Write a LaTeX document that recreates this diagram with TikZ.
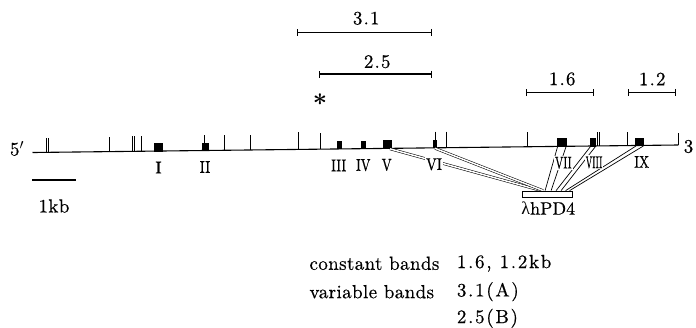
\documentclass[tikz,border=0pt]{standalone}
\usepackage{fontspec}
\usepackage{graphicx}
\usetikzlibrary{arrows.meta}
\setmainfont{lmroman10-regular}[Extension=.otf,FakeBold=0.5]
\newfontfamily\lsA{lmroman10-regular}[Extension=.otf,LetterSpace=2,FakeBold=0.5]
\newfontfamily\lsB{lmroman10-regular}[Extension=.otf,LetterSpace=9,FakeBold=0.5]
\newfontfamily\lsC{lmroman10-regular}[Extension=.otf,LetterSpace=6,FakeBold=0.5]
\newfontfamily\grk{Liberation Serif}
\def\ly#1{152.5-0.01163*(#1-33)}
\newcommand\rnum[2]{\resizebox{#1pt}{\height}{#2}}
\tikzset{
  mainline/.style={line width=1.1pt},
  tk/.style={line width=0.8pt},
  sizebar/.style={line width=1.1pt,{Bar[width=7pt]}-{Bar[width=7pt]}},
  num/.style={font=\lsC\fontsize{19}{20}\selectfont,inner sep=0pt},
  rn/.style={font=\fontsize{17}{18}\selectfont,inner sep=1pt,fill=white},
  lgd/.style={font=\lsA\fontsize{19}{20}\selectfont,inner sep=0pt,anchor=west},
  lgdn/.style={font=\lsB\fontsize{19}{20}\selectfont,inner sep=0pt,anchor=west},
  dbl/.style={draw=black,line width=0.55pt,double=white,double distance=1.5pt},
  sgl/.style={line width=0.7pt},
}
\begin{document}
\begin{tikzpicture}[x=1pt,y=-1pt]
\useasboundingbox (0,0) rectangle (696,327);
% main line
\coordinate (L) at (32.5,{\ly{32.5}});
\coordinate (R) at (678.3,{\ly{678.3}});
\draw[mainline] (L) -- (R);
% ticks
\foreach \t/\h in {46.5/138.3,48.3/138.3,109/137,132.7/136,134.7/136,141.7/136,204.3/135,224.3/135,250/135,298.3/132.3,320/133,435/131.7,446/131.7,527.3/132.3,597.3/132.3,599.3/132.3,627.3/132,678.3/133.3}
  \draw[tk] (\t,\h) -- (\t,{\ly{\t}});
% exons
\foreach \a/\b in {154/163.3,201.7/209,336.7/341.7,360.7/365.7,383.3/392.3,432.7/437.3,557.3/567.3,590/596,635/644}
  \fill (\a,{\ly{\a}+0.5}) rectangle (\b,{\ly{\a}-8});
% exon connector start points
\coordinate (eV) at (390,{\ly{390}+0.5});
\coordinate (eVI) at (435,{\ly{435}+0.5});
\coordinate (eVIIa) at (557.5,{\ly{557.5}+0.5});
\coordinate (eVIIb) at (566,{\ly{566}+0.5});
\coordinate (eVIIIa) at (590.5,{\ly{590.5}+0.5});
\coordinate (eVIIIb) at (595.5,{\ly{595.5}+0.5});
\coordinate (eIXa) at (636,{\ly{636}+0.5});
\coordinate (eIXb) at (643.5,{\ly{643.5}+0.5});
% clone box
\node[draw,fill=white,line width=0.8pt,minimum width=49.5pt,minimum height=6pt,inner sep=0pt] (pd) at (547.25,194) {};
\coordinate (pV) at ([xshift=19pt]pd.north west);
\coordinate (pVI) at ([xshift=21pt]pd.north west);
\coordinate (pVIIa) at ([xshift=23pt]pd.north west);
\coordinate (pVIIb) at ([xshift=29pt]pd.north west);
\coordinate (pVIIIa) at ([xshift=34pt]pd.north west);
\coordinate (pVIIIb) at ([xshift=39pt]pd.north west);
\coordinate (pIXa) at ([xshift=43.5pt]pd.north west);
\coordinate (pIXb) at ([xshift=47.5pt]pd.north west);
\draw[dbl] (eV) -- (pV);
\draw[dbl] (eVI) -- (pVI);
\draw[sgl] (eVIIa) -- (pVIIa);
\draw[sgl] (eVIIb) -- (pVIIb);
\draw[sgl] (eVIIIa) -- (pVIIIa);
\draw[sgl] (eVIIIb) -- (pVIIIb);
\draw[sgl] (eIXa) -- (pIXa);
\draw[sgl] (eIXb) -- (pIXb);
\node[draw,fill=white,line width=0.8pt,minimum width=49.5pt,minimum height=6pt,inner sep=0pt] (pdtop) at (pd) {};
\node[font=\fontsize{18}{19}\selectfont,inner sep=0pt] (pdl) at (548.3,208.3) {{\grk λ}hPD4};
% exon labels
\node[rn] (nI) at (158.5,{\ly{158.5}+16.5}) {I};
\node[rn] (nII) at (205,{\ly{205}+16.5}) {\rnum{10.7}{II}};
\node[rn] (nIII) at (338.7,{\ly{338.7}+16.5}) {\rnum{15}{III}};
\node[rn] (nIV) at (363.3,{\ly{363.3}+16.5}) {\rnum{14.3}{IV}};
\node[rn] (nV) at (386.7,{\ly{386.7}+16.5}) {\rnum{10}{V}};
\node[rn] (nVI) at (434,{\ly{434}+16.5}) {\rnum{16}{VI}};
\node[rn] (nVII) at (563.3,{\ly{563.3}+16.5}) {\rnum{16.7}{VII}};
\node[rn] (nVIII) at (594,{\ly{594}+16.5}) {\rnum{16.7}{VIII}};
\node[rn] (nIX) at (641.7,{\ly{641.7}+16.5}) {\rnum{15}{IX}};
% ends
\node[font=\fontsize{19}{20}\selectfont,inner sep=0pt] (five) at (17,148.5) {5$'$};
\node[font=\fontsize{19}{20}\selectfont,inner sep=0pt] (three) at (688.5,146.5) {3};
% scale bar
\coordinate (s1) at (32,180);
\coordinate (s2) at (76,180);
\draw[mainline] (s1) -- (s2);
\node[font=\lsA\fontsize{19}{20}\selectfont,inner sep=0pt] (kb) at (54,206) {1kb};
% fragment bars
\coordinate (a1) at (297.3,32.3); \coordinate (a2) at (432.3,32.3);
\coordinate (b1) at (319,74); \coordinate (b2) at (432.3,74);
\coordinate (c1) at (525.7,92.7); \coordinate (c2) at (594,92.7);
\coordinate (d1) at (627.7,92.3); \coordinate (d2) at (676,92.3);
\draw[sizebar] (a1) -- (a2);
\draw[sizebar] (b1) -- (b2);
\draw[sizebar] (c1) -- (c2);
\draw[sizebar] (d1) -- (d2);
\node[num] (la) at (366.2,18.3) {3.1};
\node[num] (lb) at (377.2,61.7) {2.5};
\node[num] (lc) at (562.2,79) {1.6};
\node[num] (ld) at (652.2,79) {1.2};
\node[inner sep=0pt,font=\fontsize{24}{24}\selectfont\boldmath] (ast) at (320,100) {$\ast$};
% legend
\node[lgd] (g1) at (309.3,263.3) {constant bands};
\node[lgd] (g2) at (309.3,291.7) {variable bands};
\node[lgdn] (h1) at (456.7,263.3) {1.6, 1.2kb};
\node[lgdn] (h2) at (456.7,291.7) {3.1(A)};
\node[lgdn] (h3) at (456.7,318.3) {2.5(B)};
\end{tikzpicture}
\end{document}
